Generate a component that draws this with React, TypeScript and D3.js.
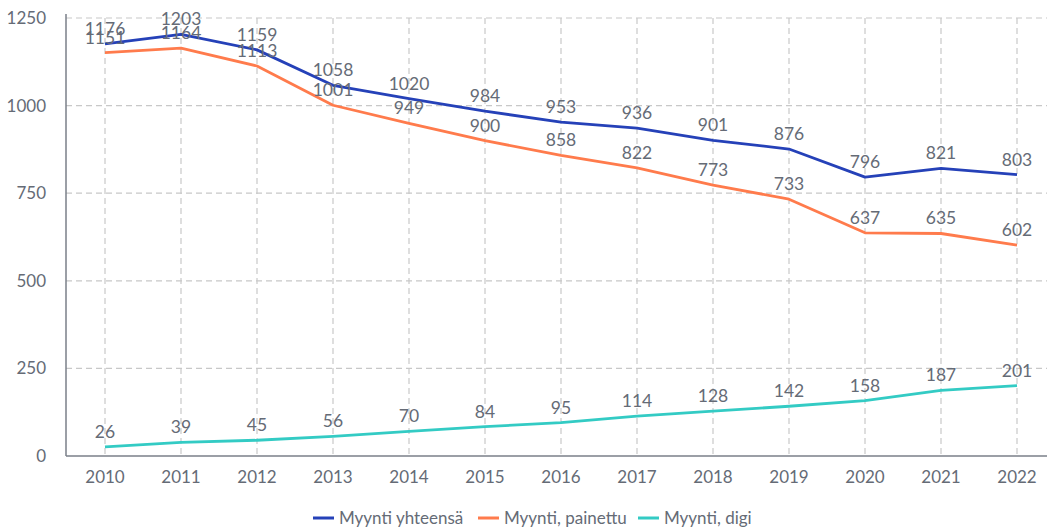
import React from "react";
import * as d3 from "d3";

const years = ["2010", "2011", "2012", "2013", "2014", "2015", "2016", "2017", "2018", "2019", "2020", "2021", "2022"];
const totalSales = [1176, 1203, 1159, 1058, 1020, 984, 953, 936, 901, 876, 796, 821, 803];
const printSales = [1151, 1164, 1113, 1001, 949, 900, 858, 822, 773, 733, 637, 635, 602];
const digiSales = [26, 39, 45, 56, 70, 84, 95, 114, 128, 142, 158, 187, 201];
const yTicks = [0, 250, 500, 750, 1000, 1250];

const series = [
  { name: "Myynti yhteensä", values: totalSales, color: "#2541b8" },
  { name: "Myynti, painettu", values: printSales, color: "#ff7b4c" },
  { name: "Myynti, digi", values: digiSales, color: "#33cbc4" },
];

const W = 1047;
const H = 528;
const left = 66;
const right = 1047;
const top = 18;
const bottom = 456;
const font = "Lato, 'Noto Sans', sans-serif";
const textColor = "#656b76";

export default function App() {
  const x = d3.scalePoint<string>().domain(years).range([105, 1017]);
  const y = d3.scaleLinear().domain([0, 1250]).range([bottom, top]);
  const line = d3.line<number>().x((_, i) => x(years[i]) as number).y((d) => y(d));

  const legendX = [313, 478, 638];

  return (
    <svg width={W} height={H} style={{ position: "absolute", left: 0, top: 0, fontFamily: font }}>
      {/* grid */}
      {yTicks.filter((t) => t > 0).map((t) => (
        <line key={t} x1={left} x2={right} y1={y(t)} y2={y(t)} stroke="#c8c8c8" strokeDasharray="6,4" strokeWidth={1.2} />
      ))}
      {years.map((yr) => (
        <line key={yr} x1={x(yr)} x2={x(yr)} y1={top} y2={bottom} stroke="#c8c8c8" strokeDasharray="6,4" strokeWidth={1.2} />
      ))}
      {/* axes */}
      <line x1={left} x2={left} y1={14} y2={bottom} stroke="#7a7f88" strokeWidth={1.5} />
      <line x1={left} x2={right} y1={bottom} y2={bottom} stroke="#7a7f88" strokeWidth={1.5} />
      {yTicks.map((t) => (
        <text key={t} x={46} y={y(t) + 6} textAnchor="end" fontSize={17} fill={textColor}>{t}</text>
      ))}
      {years.map((yr) => (
        <text key={yr} x={x(yr)} y={483} textAnchor="middle" fontSize={17} fill={textColor}>{yr}</text>
      ))}
      {/* lines */}
      {series.map((s) => (
        <path key={s.name} d={line(s.values) || ""} fill="none" stroke={s.color} strokeWidth={2.8} strokeLinejoin="round" />
      ))}
      {/* labels */}
      {series.map((s) =>
        s.values.map((v, i) => (
          <text key={s.name + i} x={x(years[i])} y={y(v) - 9} textAnchor="middle" fontSize={17.5} fill={textColor}>{v}</text>
        ))
      )}
      {/* legend */}
      {series.map((s, i) => (
        <g key={s.name} transform={`translate(${legendX[i]}, 518)`}>
          <line x1={0} x2={21} y1={0} y2={0} stroke={s.color} strokeWidth={3} />
          <text x={26} y={6} fontSize={17} fill={textColor}>{s.name}</text>
        </g>
      ))}
    </svg>
  );
}
